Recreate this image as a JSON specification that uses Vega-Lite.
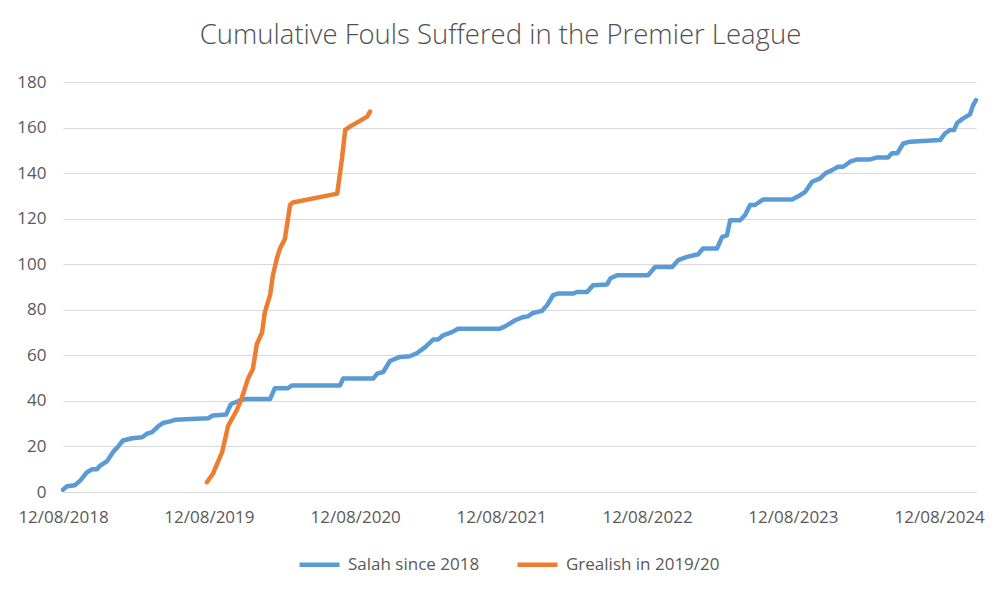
{
  "$schema": "https://vega.github.io/schema/vega-lite/v6.json",
  "autosize": {"type": "none"},
  "width": 913,
  "height": 410,
  "padding": {"left": 63, "top": 82, "right": 24, "bottom": 103},
  "background": "white",
  "title": {
    "text": "Cumulative Fouls Suffered in the Premier League",
    "font": "Open Sans",
    "fontSize": 27.5,
    "fontWeight": 300,
    "color": "#505050",
    "anchor": "middle",
    "dx": -19,
    "offset": 24
  },
  "data": {
    "values": [
      {"series": "Salah since 2018", "date": "2018-08-12", "fouls": 1},
      {"series": "Salah since 2018", "date": "2018-08-22", "fouls": 2.5},
      {"series": "Salah since 2018", "date": "2018-09-11", "fouls": 3},
      {"series": "Salah since 2018", "date": "2018-09-24", "fouls": 5},
      {"series": "Salah since 2018", "date": "2018-10-11", "fouls": 8.7},
      {"series": "Salah since 2018", "date": "2018-10-24", "fouls": 10},
      {"series": "Salah since 2018", "date": "2018-11-05", "fouls": 10},
      {"series": "Salah since 2018", "date": "2018-11-13", "fouls": 11.6},
      {"series": "Salah since 2018", "date": "2018-11-30", "fouls": 13.5},
      {"series": "Salah since 2018", "date": "2018-12-15", "fouls": 17.5},
      {"series": "Salah since 2018", "date": "2018-12-28", "fouls": 20},
      {"series": "Salah since 2018", "date": "2019-01-09", "fouls": 22.6},
      {"series": "Salah since 2018", "date": "2019-02-01", "fouls": 23.6},
      {"series": "Salah since 2018", "date": "2019-02-26", "fouls": 24},
      {"series": "Salah since 2018", "date": "2019-03-10", "fouls": 25.6},
      {"series": "Salah since 2018", "date": "2019-03-23", "fouls": 26.3},
      {"series": "Salah since 2018", "date": "2019-04-07", "fouls": 28.8},
      {"series": "Salah since 2018", "date": "2019-04-19", "fouls": 30.3},
      {"series": "Salah since 2018", "date": "2019-05-07", "fouls": 31},
      {"series": "Salah since 2018", "date": "2019-05-19", "fouls": 31.7},
      {"series": "Salah since 2018", "date": "2019-08-10", "fouls": 32.4},
      {"series": "Salah since 2018", "date": "2019-08-22", "fouls": 33.6},
      {"series": "Salah since 2018", "date": "2019-09-24", "fouls": 34},
      {"series": "Salah since 2018", "date": "2019-10-06", "fouls": 38.5},
      {"series": "Salah since 2018", "date": "2019-10-19", "fouls": 39.5},
      {"series": "Salah since 2018", "date": "2019-10-29", "fouls": 40.2},
      {"series": "Salah since 2018", "date": "2019-11-10", "fouls": 40.8},
      {"series": "Salah since 2018", "date": "2020-01-12", "fouls": 40.8},
      {"series": "Salah since 2018", "date": "2020-01-24", "fouls": 45.6},
      {"series": "Salah since 2018", "date": "2020-02-26", "fouls": 45.6},
      {"series": "Salah since 2018", "date": "2020-03-07", "fouls": 46.8},
      {"series": "Salah since 2018", "date": "2020-07-05", "fouls": 46.8},
      {"series": "Salah since 2018", "date": "2020-07-13", "fouls": 49.8},
      {"series": "Salah since 2018", "date": "2020-09-26", "fouls": 49.8},
      {"series": "Salah since 2018", "date": "2020-10-06", "fouls": 52},
      {"series": "Salah since 2018", "date": "2020-10-21", "fouls": 52.7},
      {"series": "Salah since 2018", "date": "2020-11-07", "fouls": 57.5},
      {"series": "Salah since 2018", "date": "2020-12-02", "fouls": 59.3},
      {"series": "Salah since 2018", "date": "2020-12-27", "fouls": 59.6},
      {"series": "Salah since 2018", "date": "2021-01-14", "fouls": 61},
      {"series": "Salah since 2018", "date": "2021-02-03", "fouls": 63.6},
      {"series": "Salah since 2018", "date": "2021-02-23", "fouls": 66.9},
      {"series": "Salah since 2018", "date": "2021-03-07", "fouls": 66.9},
      {"series": "Salah since 2018", "date": "2021-03-20", "fouls": 68.8},
      {"series": "Salah since 2018", "date": "2021-04-11", "fouls": 70.2},
      {"series": "Salah since 2018", "date": "2021-04-26", "fouls": 71.7},
      {"series": "Salah since 2018", "date": "2021-08-09", "fouls": 71.7},
      {"series": "Salah since 2018", "date": "2021-08-22", "fouls": 72.7},
      {"series": "Salah since 2018", "date": "2021-09-16", "fouls": 75.4},
      {"series": "Salah since 2018", "date": "2021-10-06", "fouls": 76.8},
      {"series": "Salah since 2018", "date": "2021-10-18", "fouls": 77.1},
      {"series": "Salah since 2018", "date": "2021-10-31", "fouls": 78.6},
      {"series": "Salah since 2018", "date": "2021-11-22", "fouls": 79.5},
      {"series": "Salah since 2018", "date": "2021-12-05", "fouls": 82},
      {"series": "Salah since 2018", "date": "2021-12-20", "fouls": 86.4},
      {"series": "Salah since 2018", "date": "2022-01-01", "fouls": 87.1},
      {"series": "Salah since 2018", "date": "2022-02-08", "fouls": 87.1},
      {"series": "Salah since 2018", "date": "2022-02-18", "fouls": 87.8},
      {"series": "Salah since 2018", "date": "2022-03-15", "fouls": 87.8},
      {"series": "Salah since 2018", "date": "2022-03-30", "fouls": 90.8},
      {"series": "Salah since 2018", "date": "2022-05-04", "fouls": 91.1},
      {"series": "Salah since 2018", "date": "2022-05-12", "fouls": 93.7},
      {"series": "Salah since 2018", "date": "2022-05-29", "fouls": 95.2},
      {"series": "Salah since 2018", "date": "2022-08-15", "fouls": 95.2},
      {"series": "Salah since 2018", "date": "2022-09-01", "fouls": 98.8},
      {"series": "Salah since 2018", "date": "2022-10-14", "fouls": 98.8},
      {"series": "Salah since 2018", "date": "2022-10-29", "fouls": 101.8},
      {"series": "Salah since 2018", "date": "2022-11-20", "fouls": 103.2},
      {"series": "Salah since 2018", "date": "2022-12-18", "fouls": 104.4},
      {"series": "Salah since 2018", "date": "2022-12-30", "fouls": 106.9},
      {"series": "Salah since 2018", "date": "2023-02-03", "fouls": 106.9},
      {"series": "Salah since 2018", "date": "2023-02-16", "fouls": 112},
      {"series": "Salah since 2018", "date": "2023-02-28", "fouls": 112.7},
      {"series": "Salah since 2018", "date": "2023-03-08", "fouls": 119.3},
      {"series": "Salah since 2018", "date": "2023-04-02", "fouls": 119.3},
      {"series": "Salah since 2018", "date": "2023-04-14", "fouls": 121.5},
      {"series": "Salah since 2018", "date": "2023-04-27", "fouls": 126},
      {"series": "Salah since 2018", "date": "2023-05-09", "fouls": 126},
      {"series": "Salah since 2018", "date": "2023-05-29", "fouls": 128.4},
      {"series": "Salah since 2018", "date": "2023-08-10", "fouls": 128.4},
      {"series": "Salah since 2018", "date": "2023-08-30", "fouls": 130.3},
      {"series": "Salah since 2018", "date": "2023-09-12", "fouls": 131.8},
      {"series": "Salah since 2018", "date": "2023-09-29", "fouls": 136.2},
      {"series": "Salah since 2018", "date": "2023-10-19", "fouls": 137.7},
      {"series": "Salah since 2018", "date": "2023-11-01", "fouls": 139.9},
      {"series": "Salah since 2018", "date": "2023-11-18", "fouls": 141.3},
      {"series": "Salah since 2018", "date": "2023-12-03", "fouls": 142.8},
      {"series": "Salah since 2018", "date": "2023-12-16", "fouls": 142.8},
      {"series": "Salah since 2018", "date": "2024-01-02", "fouls": 145},
      {"series": "Salah since 2018", "date": "2024-01-20", "fouls": 146},
      {"series": "Salah since 2018", "date": "2024-02-21", "fouls": 146},
      {"series": "Salah since 2018", "date": "2024-03-10", "fouls": 146.9},
      {"series": "Salah since 2018", "date": "2024-04-06", "fouls": 146.9},
      {"series": "Salah since 2018", "date": "2024-04-16", "fouls": 148.7},
      {"series": "Salah since 2018", "date": "2024-04-29", "fouls": 148.7},
      {"series": "Salah since 2018", "date": "2024-05-14", "fouls": 153},
      {"series": "Salah since 2018", "date": "2024-05-31", "fouls": 153.8},
      {"series": "Salah since 2018", "date": "2024-08-14", "fouls": 154.5},
      {"series": "Salah since 2018", "date": "2024-08-27", "fouls": 157.5},
      {"series": "Salah since 2018", "date": "2024-09-08", "fouls": 158.9},
      {"series": "Salah since 2018", "date": "2024-09-18", "fouls": 158.9},
      {"series": "Salah since 2018", "date": "2024-09-26", "fouls": 162.1},
      {"series": "Salah since 2018", "date": "2024-10-11", "fouls": 164},
      {"series": "Salah since 2018", "date": "2024-10-28", "fouls": 165.8},
      {"series": "Salah since 2018", "date": "2024-11-05", "fouls": 169.9},
      {"series": "Salah since 2018", "date": "2024-11-12", "fouls": 172},
      {"series": "Grealish in 2019/20", "date": "2019-08-07", "fouls": 4.3},
      {"series": "Grealish in 2019/20", "date": "2019-08-22", "fouls": 8},
      {"series": "Grealish in 2019/20", "date": "2019-09-14", "fouls": 17.5},
      {"series": "Grealish in 2019/20", "date": "2019-09-29", "fouls": 29},
      {"series": "Grealish in 2019/20", "date": "2019-10-21", "fouls": 36},
      {"series": "Grealish in 2019/20", "date": "2019-11-03", "fouls": 41.7},
      {"series": "Grealish in 2019/20", "date": "2019-11-18", "fouls": 49.8},
      {"series": "Grealish in 2019/20", "date": "2019-11-30", "fouls": 54},
      {"series": "Grealish in 2019/20", "date": "2019-12-10", "fouls": 65},
      {"series": "Grealish in 2019/20", "date": "2019-12-23", "fouls": 70},
      {"series": "Grealish in 2019/20", "date": "2019-12-30", "fouls": 79},
      {"series": "Grealish in 2019/20", "date": "2020-01-12", "fouls": 86.4},
      {"series": "Grealish in 2019/20", "date": "2020-01-19", "fouls": 95},
      {"series": "Grealish in 2019/20", "date": "2020-01-29", "fouls": 102.5},
      {"series": "Grealish in 2019/20", "date": "2020-02-06", "fouls": 107},
      {"series": "Grealish in 2019/20", "date": "2020-02-18", "fouls": 111},
      {"series": "Grealish in 2019/20", "date": "2020-03-02", "fouls": 126},
      {"series": "Grealish in 2019/20", "date": "2020-03-09", "fouls": 127.1},
      {"series": "Grealish in 2019/20", "date": "2020-06-28", "fouls": 131},
      {"series": "Grealish in 2019/20", "date": "2020-07-10", "fouls": 146.5},
      {"series": "Grealish in 2019/20", "date": "2020-07-18", "fouls": 159},
      {"series": "Grealish in 2019/20", "date": "2020-07-30", "fouls": 160.4},
      {"series": "Grealish in 2019/20", "date": "2020-09-11", "fouls": 164.8},
      {"series": "Grealish in 2019/20", "date": "2020-09-18", "fouls": 167}
    ]
  },
  "mark": {"type": "line", "strokeWidth": 4.5, "strokeJoin": "round", "strokeCap": "round"},
  "encoding": {
    "x": {
      "field": "date",
      "type": "temporal",
      "scale": {
        "type": "utc",
        "domain": [
          {"year": 2018, "month": 8, "date": 12, "utc": true},
          {"year": 2024, "month": 11, "date": 12, "utc": true}
        ]
      },
      "axis": {
        "title": null,
        "format": "%d/%m/%Y",
        "values": [
          {"year": 2018, "month": 8, "date": 12, "utc": true},
          {"year": 2019, "month": 8, "date": 12, "utc": true},
          {"year": 2020, "month": 8, "date": 12, "utc": true},
          {"year": 2021, "month": 8, "date": 12, "utc": true},
          {"year": 2022, "month": 8, "date": 12, "utc": true},
          {"year": 2023, "month": 8, "date": 12, "utc": true},
          {"year": 2024, "month": 8, "date": 12, "utc": true}
        ],
        "grid": false,
        "ticks": false,
        "tickSize": 0,
        "domain": true,
        "domainColor": "#d9d9d9",
        "labelFont": "Open Sans",
        "labelFontSize": 17,
        "labelColor": "#595959",
        "labelPadding": 17,
        "labelFlush": false,
        "labelOverlap": false
      }
    },
    "y": {
      "field": "fouls",
      "type": "quantitative",
      "scale": {"domain": [0, 180], "nice": false},
      "axis": {
        "title": null,
        "values": [0, 20, 40, 60, 80, 100, 120, 140, 160, 180],
        "grid": true,
        "gridColor": "#d9d9d9",
        "gridWidth": 1,
        "domain": false,
        "ticks": false,
        "tickSize": 0,
        "labelFont": "Open Sans",
        "labelFontSize": 17,
        "labelColor": "#595959",
        "labelPadding": 17
      }
    },
    "color": {
      "field": "series",
      "type": "nominal",
      "sort": ["Salah since 2018", "Grealish in 2019/20"],
      "scale": {"domain": ["Salah since 2018", "Grealish in 2019/20"], "range": ["#5B9BD5", "#ED7D31"]},
      "legend": {
        "title": null,
        "orient": "none",
        "direction": "horizontal",
        "legendX": 234,
        "legendY": 460,
        "padding": 0,
        "symbolType": "stroke",
        "symbolSize": 1600,
        "symbolStrokeWidth": 4.5,
        "labelFont": "Open Sans",
        "labelFontSize": 17,
        "labelColor": "#595959",
        "labelOffset": 6,
        "columnPadding": 28
      }
    }
  },
  "config": {"view": {"stroke": null}}
}
